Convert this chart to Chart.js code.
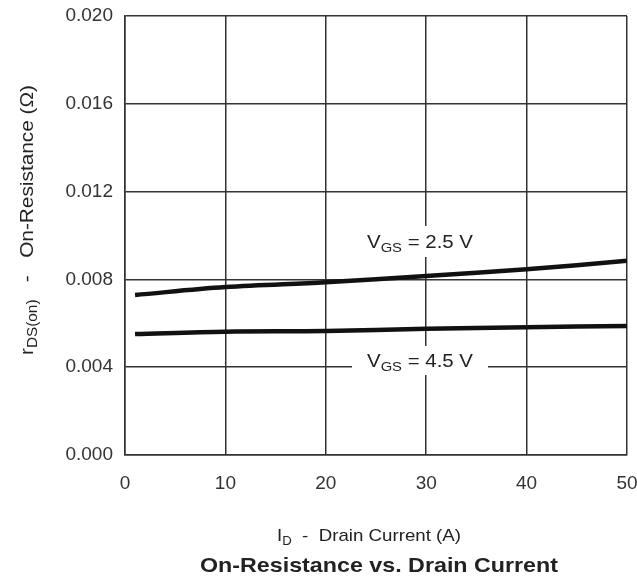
<!DOCTYPE html>
<html>
<head>
<meta charset="utf-8">
<script src="https://cdn.jsdelivr.net/npm/chart.js@4.4.0/dist/chart.umd.min.js"></script>
<style>
html,body{margin:0;padding:0;background:#fff;}
#wrap{width:637px;height:578px;position:relative;}
</style>
</head>
<body>
<div id="wrap"><canvas id="c" width="637" height="578"></canvas></div>
<script>
// Data
const drainCurrent = [1, 10, 20, 30, 40, 50];            // I_D (A)
const rdsVgs25 = [0.00729, 0.00765, 0.00787, 0.00815, 0.00846, 0.00885]; // Ω, VGS = 2.5 V
const rdsVgs45 = [0.00551, 0.00562, 0.00565, 0.00575, 0.00582, 0.00588]; // Ω, VGS = 4.5 V
const xTicks = [0, 10, 20, 30, 40, 50];
const yTicks = [0.000, 0.004, 0.008, 0.012, 0.016, 0.020];
const seriesLabels = ["VGS = 2.5 V", "VGS = 4.5 V"];

const FONT = "'Liberation Sans', Arial, Helvetica, sans-serif";

function toPts(xs, ys){ return xs.map((x,i)=>({x:x, y:ys[i]})); }

function segWidth(ctx, segs, size){
  let w=0;
  segs.forEach(s=>{ ctx.font = (s.bold?'bold ':'') + (s.sub? Math.round(size*0.72):size) + 'px ' + FONT; w += ctx.measureText(s.t).width; });
  return w;
}
function drawSegs(ctx, segs, x, y, size){
  let cx = x;
  segs.forEach(s=>{
    const fs = s.sub? Math.round(size*0.72):size;
    ctx.font = (s.bold?'bold ':'') + fs + 'px ' + FONT;
    ctx.fillText(s.t, cx, y + (s.sub? size*0.22:0));
    cx += ctx.measureText(s.t).width;
  });
}
function drawStretched(ctx, segs, cx, y, size, targetW){
  const w = segWidth(ctx, segs, size);
  const k = targetW ? targetW / w : 1;
  ctx.save();
  ctx.translate(cx - (w*k)/2, y);
  ctx.scale(k, 1);
  drawSegs(ctx, segs, 0, 0, size);
  ctx.restore();
}

const textPlugin = {
  id: 'texts',
  afterDraw(chart){
    const ctx = chart.ctx;
    ctx.save();
    ctx.textBaseline = 'alphabetic';
    ctx.textAlign = 'left';

    // white boxes behind the curve labels
    ctx.fillStyle = '#fff';
    ctx.fillRect(360, 226, 120, 31);
    ctx.fillRect(352, 346, 136, 29);
    ctx.fillStyle = '#222';

    const l25 = [{t:'V'},{t:'GS',sub:true},{t:' = 2.5 V'}];
    const l45 = [{t:'V'},{t:'GS',sub:true},{t:' = 4.5 V'}];
    drawStretched(ctx, l25, 420, 248, 18, 106);
    drawStretched(ctx, l45, 420, 367, 18, 106);

    const xt = [{t:'I'},{t:'D',sub:true},{t:'  -  Drain Current (A)'}];
    drawStretched(ctx, xt, 369, 541, 17, 184);

    const tt = [{t:'On-Resistance vs. Drain Current', bold:true}];
    drawStretched(ctx, tt, 379, 572, 21, 358);

    ctx.save();
    ctx.translate(33, 220);
    ctx.rotate(-Math.PI/2);
    const yt = [{t:'r'},{t:'DS(on)',sub:true},{t:'   -   On-Resistance (Ω)'}];
    drawStretched(ctx, yt, 0, 0, 19, 270);
    ctx.restore();

    ctx.restore();
  }
};

new Chart(document.getElementById('c'), {
  type: 'line',
  data: {
    datasets: [
      { label: seriesLabels[0], data: toPts(drainCurrent, rdsVgs25), borderColor:'#111', borderWidth:4.5, pointRadius:0, tension:0.35, fill:false },
      { label: seriesLabels[1], data: toPts(drainCurrent, rdsVgs45), borderColor:'#111', borderWidth:4.5, pointRadius:0, tension:0.35, fill:false }
    ]
  },
  options: {
    responsive:false,
    animation:false,
    devicePixelRatio:1,
    layout:{ padding:{ left:0, top:16, right:10, bottom:0 }, autoPadding:false },
    plugins:{ legend:{display:false}, tooltip:{enabled:false}, title:{display:false} },
    scales:{
      x:{
        type:'linear', min:0, max:50,
        afterBuildTicks(s){ s.ticks = xTicks.map(v=>({value:v})); },
        afterFit(s){ s.height = 123; s.paddingLeft = 0; s.paddingRight = 0; s.paddingTop = 0; s.paddingBottom = 0; },
        grid:{ color:'#333', lineWidth:1.5, drawTicks:false },
        border:{ color:'#333', width:1.5 },
        ticks:{ color:'#333', padding:17, font:{family:FONT, size:19}, callback:v=>String(v), maxRotation:0 }
      },
      y:{
        type:'linear', min:0, max:0.02,
        afterBuildTicks(s){ s.ticks = yTicks.map(v=>({value:v})); },
        afterFit(s){ s.width = 125; s.paddingLeft = 0; s.paddingRight = 0; s.paddingTop = 0; s.paddingBottom = 0; },
        grid:{ color:'#333', lineWidth:1.5, drawTicks:false },
        border:{ color:'#333', width:1.5 },
        ticks:{ color:'#333', padding:12, font:{family:FONT, size:19}, callback:v=>Number(v).toFixed(3) }
      }
    }
  },
  plugins:[textPlugin]
});
</script>
</body>
</html>
